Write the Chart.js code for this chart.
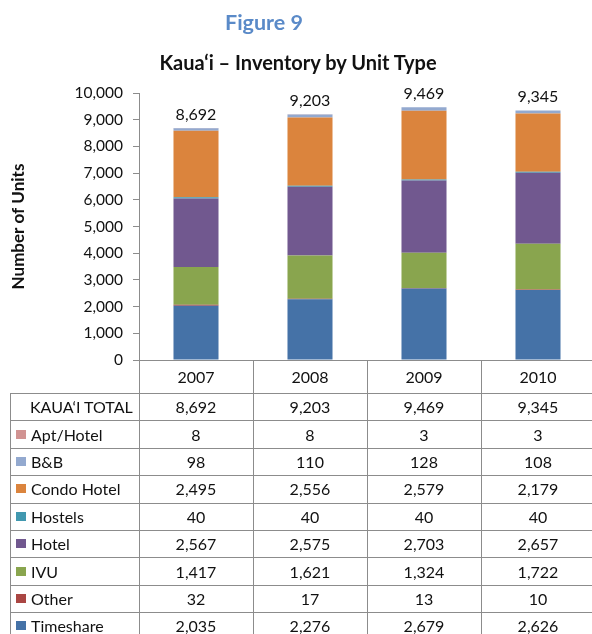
<!DOCTYPE html>
<html>
<head>
<meta charset="utf-8">
<script src="https://cdn.jsdelivr.net/npm/chart.js@4.4.1/dist/chart.umd.min.js"></script>
<style>
  body { margin: 0; background: #fff; overflow: hidden; font-family: Lato, "Noto Sans", sans-serif; color: #111; }
  #wrap { position: relative; width: 592px; height: 634px; overflow: hidden; }
  #chart { position: absolute; left: 0; top: 0; }
  .fig { position: absolute; top: 9px; left: 0; width: 528px; text-align: center; font-size: 21.5px; font-weight: bold; color: #5a8ac8; }
  .sub { position: absolute; top: 50px; left: 0; width: 596px; text-align: center; font-size: 20px; font-weight: bold; color: #111; }
  .ln { position: absolute; background: #8c8c8c; }
  .cell { position: absolute; display: flex; align-items: center; justify-content: center; font-size: 16px; white-space: nowrap; }
  .lbl { justify-content: flex-start; }
  .sw { display: inline-block; width: 10px; height: 9px; margin: 0 5px 0 6px; }
</style>
</head>
<body>
<div id="wrap">
  <canvas id="chart" width="596" height="634"></canvas>
  <div class="fig">Figure 9</div>
  <div class="sub">Kaua‘i – Inventory by Unit Type</div>
  <div id="table"></div>
</div>
<script>
const years = ['2007', '2008', '2009', '2010'];
const kauaiTotal = [8692, 9203, 9469, 9345];
const aptHotel = [8, 8, 3, 3];
const bnb = [98, 110, 128, 108];
const condoHotel = [2495, 2556, 2579, 2179];
const hostels = [40, 40, 40, 40];
const hotel = [2567, 2575, 2703, 2657];
const ivu = [1417, 1621, 1324, 1722];
const other = [32, 17, 13, 10];
const timeshare = [2035, 2276, 2679, 2626];
const yMax = 10000;
const yStep = 1000;

// bottom of the stack first
const series = [
  { label: 'Timeshare', data: timeshare, color: '#4572a7' },
  { label: 'Other', data: other, color: '#aa4643' },
  { label: 'IVU', data: ivu, color: '#89a54e' },
  { label: 'Hotel', data: hotel, color: '#71588f' },
  { label: 'Hostels', data: hostels, color: '#4198af' },
  { label: 'Condo Hotel', data: condoHotel, color: '#db843d' },
  { label: 'B&B', data: bnb, color: '#93a9cf' },
  { label: 'Apt/Hotel', data: aptHotel, color: '#d19392' },
];

const fmt = v => v.toLocaleString('en-US');

// totals on top of each column
const totalLabels = {
  id: 'totalLabels',
  afterDatasetsDraw(chart) {
    const {ctx, scales: {x, y}} = chart;
    ctx.save();
    ctx.font = '16px Lato';
    ctx.fillStyle = '#111';
    ctx.textAlign = 'center';
    ctx.textBaseline = 'alphabetic';
    kauaiTotal.forEach((t, i) => {
      ctx.fillText(fmt(t), x.getPixelForValue(i), y.getPixelForValue(t) - 8);
    });
    ctx.restore();
  }
};

const chart = new Chart(document.getElementById('chart'), {
  type: 'bar',
  data: {
    labels: years,
    datasets: series.map(s => ({
      label: s.label,
      data: s.data,
      backgroundColor: s.color,
      borderWidth: 0,
      barPercentage: 0.395,
      categoryPercentage: 1,
    }))
  },
  options: {
    responsive: false,
    animation: false,
    layout: { padding: { top: 93, bottom: 274, left: 0, right: 1 } },
    plugins: {
      legend: { display: false },
      tooltip: { enabled: false },
    },
    scales: {
      x: {
        stacked: true,
        ticks: { display: false },
        grid: { display: false },
        border: { display: true, color: '#8c8c8c' },
        afterFit(s) { s.height = 0; }
      },
      y: {
        stacked: true,
        min: 0,
        max: yMax,
        ticks: {
          stepSize: yStep,
          padding: 10,
          color: '#111',
          font: { family: 'Lato', size: 15.5 },
          callback: v => fmt(v)
        },
        grid: { drawOnChartArea: false, drawTicks: true, tickLength: 6, color: '#8c8c8c' },
        border: { display: true, color: '#8c8c8c' },
        title: {
          display: true,
          text: 'Number of Units',
          color: '#111',
          font: { family: 'Lato', size: 17, weight: 'bold' },
          padding: { top: 8, bottom: 0 }
        },
        afterFit(s) { s.width = 139; }
      }
    }
  },
  plugins: [totalLabels]
});

// data table under the chart, columns lined up with the x scale
function buildTable() {
  const box = document.getElementById('table');
  const xs = chart.scales.x;
  const area = chart.chartArea;
  const half = (xs.getPixelForValue(1) - xs.getPixelForValue(0)) / 2;
  const left = 10;
  const right = xs.getPixelForValue(years.length - 1) + half;
  const top = area.bottom + 33;
  const rowH = 27.4;
  const bottom = 640;

  const add = (cls, css, html) => {
    const d = document.createElement('div');
    d.className = cls;
    Object.assign(d.style, css);
    if (html !== undefined) d.innerHTML = html;
    box.appendChild(d);
    return d;
  };

  const rows = [{ label: 'KAUA‘I TOTAL', data: kauaiTotal }].concat(series.slice().reverse());

  // year header row
  years.forEach((yr, i) => {
    const cx = xs.getPixelForValue(i);
    add('cell', { left: (cx - half) + 'px', top: area.bottom + 'px', width: (2 * half) + 'px', height: '33px' }, yr);
  });

  rows.forEach((r, k) => {
    const y0 = top + k * rowH;
    const name = r.color
      ? '<span class="sw" style="background:' + r.color + '"></span>' + r.label
      : '<span style="width:20px;display:inline-block"></span>' + r.label;
    add('cell lbl', { left: left + 'px', top: y0 + 'px', width: (xs.left - left) + 'px', height: rowH + 'px' }, name);
    r.data.forEach((v, i) => {
      const cx = xs.getPixelForValue(i);
      add('cell', { left: (cx - half) + 'px', top: y0 + 'px', width: (2 * half) + 'px', height: rowH + 'px' }, fmt(v));
    });
    add('ln', { left: left + 'px', top: Math.round(y0) + 'px', width: (right - left) + 'px', height: '1px' });
  });

  // vertical rules
  add('ln', { left: left + 'px', top: Math.round(top) + 'px', width: '1px', height: (bottom - top) + 'px' });
  for (let i = 0; i <= years.length; i++) {
    const x = Math.round(xs.getPixelForValue(0) - half + i * 2 * half);
    add('ln', { left: x + 'px', top: area.bottom + 'px', width: '1px', height: (bottom - area.bottom) + 'px' });
  }
}
buildTable();
</script>
</body>
</html>
